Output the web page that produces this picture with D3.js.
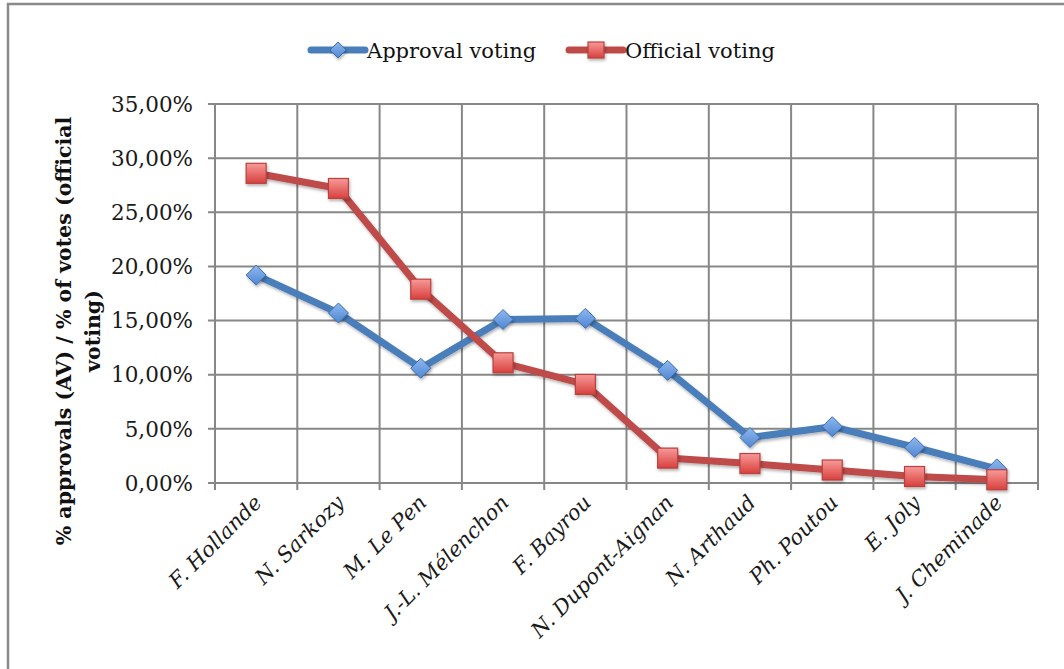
<!DOCTYPE html>
<html><head><meta charset="utf-8">
<script src="https://cdn.jsdelivr.net/npm/d3@7/dist/d3.min.js"></script>
<style>body{margin:0;background:#fff;}svg{display:block;}</style>
</head><body>
<svg id="c" width="1064" height="669"></svg>
<script>
const categories = ["F. Hollande","N. Sarkozy","M. Le Pen","J.-L. Mélenchon","F. Bayrou","N. Dupont-Aignan","N. Arthaud","Ph. Poutou","E. Joly","J. Cheminade"];
const approvalVoting = [19.2, 15.7, 10.6, 15.1, 15.2, 10.4, 4.2, 5.2, 3.3, 1.3];
const officialVoting = [28.6, 27.2, 17.9, 11.1, 9.1, 2.3, 1.8, 1.2, 0.6, 0.3];
const yTicks = [0, 5, 10, 15, 20, 25, 30, 35];
const seriesNames = ["Approval voting", "Official voting"];
const yTitle = ["% approvals (AV) / % of votes (official", "voting)"];

const svg = d3.select("#c");
const m = {l:215, r:1038, t:104, b:483};
const font = "'DejaVu Serif', 'Liberation Serif', serif";
const grid = "#878787";

const defs = svg.append("defs");
const gb = defs.append("linearGradient").attr("id","gb").attr("x1",0).attr("y1",0).attr("x2",0).attr("y2",1);
gb.append("stop").attr("offset","0%").attr("stop-color","#8fb8ef");
gb.append("stop").attr("offset","100%").attr("stop-color","#4f86d2");
const gr = defs.append("linearGradient").attr("id","gr").attr("x1",0).attr("y1",0).attr("x2",0).attr("y2",1);
gr.append("stop").attr("offset","0%").attr("stop-color","#f79a98");
gr.append("stop").attr("offset","100%").attr("stop-color","#d8403d");
const sh = defs.append("filter").attr("id","sh").attr("x","-50%").attr("y","-50%").attr("width","200%").attr("height","200%");
sh.append("feDropShadow").attr("dx",1).attr("dy",2).attr("stdDeviation",1.5).attr("flood-color","#000").attr("flood-opacity",0.3);

// outer border
svg.append("rect").attr("x",8).attr("y",4).attr("width",1100).attr("height",700)
  .attr("fill","none").attr("stroke","#8a8a8a").attr("stroke-width",2.5);

const x = d3.scaleBand().domain(categories).range([m.l, m.r]);
const y = d3.scaleLinear().domain([0, 35]).range([m.b, m.t]);

// horizontal grid
svg.append("g").selectAll("line").data(yTicks).join("line")
  .attr("x1", m.l - 7).attr("x2", m.r).attr("y1", d=>y(d)).attr("y2", d=>y(d))
  .attr("stroke", grid).attr("stroke-width", 2);
// vertical grid at boundaries
const bounds = categories.map(c=>x(c)).concat([m.r]);
svg.append("g").selectAll("line").data(bounds).join("line")
  .attr("x1", d=>d).attr("x2", d=>d).attr("y1", m.t).attr("y2", m.b + 7)
  .attr("stroke", grid).attr("stroke-width", 2);

// y tick labels
svg.append("g").selectAll("text").data(yTicks).join("text")
  .attr("x", 193).attr("y", d=>y(d)).attr("dy","0.36em")
  .attr("text-anchor","end").attr("font-family",font).attr("font-size",21.5).attr("fill","#1a1a1a")
  .text(d=>d3.format(".2f")(d).replace(".",",")+"%");

// x labels
svg.append("g").selectAll("text").data(categories).join("text")
  .attr("transform", d=>`translate(${x(d)+x.bandwidth()/2+7},${m.b+21}) rotate(-45)`)
  .attr("text-anchor","end").attr("font-family",font).attr("font-style","italic")
  .attr("font-size",21).attr("fill","#1a1a1a").text(d=>d);

// y title
const yt = svg.append("text").attr("transform","translate(71,331) rotate(-90)")
  .attr("text-anchor","middle").attr("font-family",font).attr("font-weight","bold")
  .attr("font-size",20.5).attr("fill","#111");
yt.append("tspan").attr("x",0).attr("dy",0).text(yTitle[0]);
yt.append("tspan").attr("x",0).attr("dy",29).text(yTitle[1]);

const cx = d=>x(d)+x.bandwidth()/2;
const line = d3.line().x((v,i)=>cx(categories[i])).y(v=>y(v));

function diamond(g, px, py, s){
  g.append("path").attr("d",`M${px},${py-s}L${px+s},${py}L${px},${py+s}L${px-s},${py}Z`)
   .attr("fill","url(#gb)").attr("stroke","#3d6fb0").attr("stroke-width",1).attr("filter","url(#sh)");
}
function square(g, px, py, s){
  g.append("rect").attr("x",px-s).attr("y",py-s).attr("width",2*s).attr("height",2*s)
   .attr("fill","url(#gr)").attr("stroke","#b8403d").attr("stroke-width",1.2).attr("filter","url(#sh)");
}

// Approval line
svg.append("path").datum(approvalVoting).attr("d",line).attr("fill","none")
  .attr("stroke","#4a7ebb").attr("stroke-width",7).attr("stroke-linejoin","round").attr("filter","url(#sh)");
const gA = svg.append("g");
approvalVoting.forEach((v,i)=>diamond(gA, cx(categories[i]), y(v), 10));

// Official line
svg.append("path").datum(officialVoting).attr("d",line).attr("fill","none")
  .attr("stroke","#be4b48").attr("stroke-width",7).attr("stroke-linejoin","round").attr("filter","url(#sh)");
const gO = svg.append("g");
officialVoting.forEach((v,i)=>square(gO, cx(categories[i]), y(v), 10));

// legend
const lg = svg.append("g");
const legendItems = [{name:seriesNames[0], x0:311, color:"#4a7ebb", mk:"d"},{name:seriesNames[1], x0:569, color:"#be4b48", mk:"s"}];
legendItems.forEach(it=>{
  lg.append("line").attr("x1",it.x0).attr("x2",it.x0+54).attr("y1",50).attr("y2",50)
    .attr("stroke",it.color).attr("stroke-width",7).attr("stroke-linecap","round");
  if(it.mk==="d") diamond(lg, it.x0+27, 50, 8); else square(lg, it.x0+27, 50, 8);
  lg.append("text").attr("x",it.x0+56).attr("y",50).attr("dy","0.36em")
    .attr("font-family",font).attr("font-size",21).attr("fill","#111").text(it.name);
});
</script>
</body></html>
